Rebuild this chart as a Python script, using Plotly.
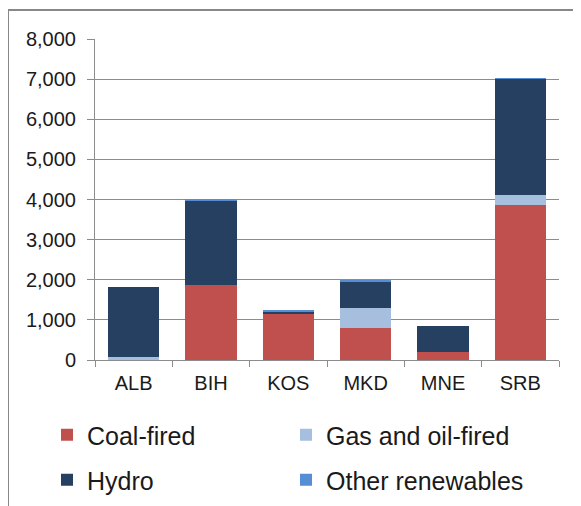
import plotly.graph_objects as go

countries = ["ALB", "BIH", "KOS", "MKD", "MNE", "SRB"]
coal_fired = [0, 1860, 1170, 790, 200, 3860]
gas_oil_fired = [75, 0, 0, 510, 0, 250]
hydro = [1750, 2120, 35, 655, 655, 2900]
other_renewables = [0, 25, 20, 45, 0, 15]

series = [
    ("Coal-fired", coal_fired, "#c0504d", "legend"),
    ("Gas and oil-fired", gas_oil_fired, "#a7bfde", "legend"),
    ("Hydro", hydro, "#254061", "legend2"),
    ("Other renewables", other_renewables, "#558ed5", "legend2"),
]

GRID = "#8c8c8c"
TEXT = "#1a1a1a"
FONT = "Liberation Sans, Arial, sans-serif"

fig = go.Figure()
for name, values, color, legend in series:
    fig.add_trace(go.Bar(
        x=countries,
        y=values,
        name=name,
        marker=dict(color=color, line=dict(width=0)),
        legend=legend,
    ))

# target plot area in window pixels; the page body adds an 8px offset
W, H = 581, 506
OFF = 8
L, R, T, B = 95 - OFF, 559 - OFF, 39 - OFF, 360 - OFF
pw, ph = R - L, B - T


def px(x):
    return (x - OFF - L) / pw


def py(y):
    return (B - (y - OFF)) / ph


legend_common = dict(
    orientation="h",
    xanchor="left",
    yanchor="middle",
    entrywidth=194,
    entrywidthmode="pixels",
    font=dict(family=FONT, size=25, color=TEXT),
    bgcolor="rgba(0,0,0,0)",
    traceorder="normal",
)

fig.update_layout(
    width=W,
    height=H,
    barmode="stack",
    bargap=0.34,
    margin=dict(l=L, r=W - R, t=T, b=H - B, autoexpand=False),
    paper_bgcolor="white",
    plot_bgcolor="white",
    font=dict(family=FONT, size=20, color=TEXT),
    legend=dict(x=px(47), y=py(435), **legend_common),
    legend2=dict(x=px(47), y=py(480), **legend_common),
    shapes=[dict(
        type="rect", xref="paper", yref="paper",
        x0=px(8), x1=px(600), y0=py(530), y1=py(10),
        line=dict(color="#888888", width=2),
        fillcolor="rgba(0,0,0,0)",
        layer="below",
    )],
)

fig.update_yaxes(
    range=[0, 8000],
    dtick=1000,
    tickformat=",",
    showgrid=True,
    gridcolor=GRID,
    gridwidth=1,
    zeroline=False,
    showline=True,
    linecolor=GRID,
    linewidth=1,
    ticks="outside",
    ticklen=7,
    tickcolor=GRID,
    ticklabelstandoff=7,
    tickfont=dict(family=FONT, size=20, color=TEXT),
)

fig.update_xaxes(
    showline=True,
    linecolor=GRID,
    linewidth=1,
    ticks="outside",
    tickson="boundaries",
    ticklen=6,
    tickcolor=GRID,
    ticklabelstandoff=5,
    tickfont=dict(family=FONT, size=20, color=TEXT),
)

fig.write_html("out.html")
